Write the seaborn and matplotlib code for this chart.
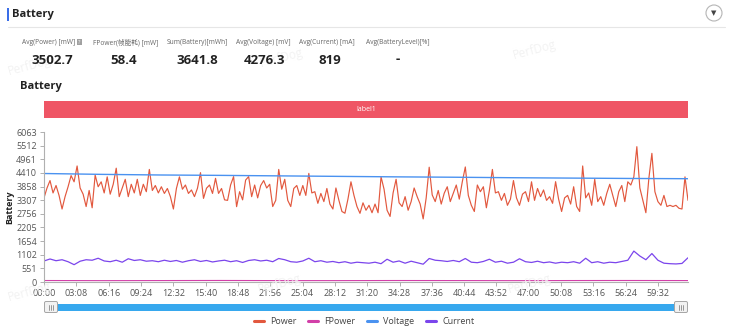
import numpy as np
import pandas as pd
import matplotlib
matplotlib.use("Agg")
import matplotlib.pyplot as plt
import seaborn as sns
from matplotlib.lines import Line2D
from matplotlib.patches import Rectangle, Ellipse, FancyBboxPatch

# ---------------- data ----------------
power = [
    3400, 3800, 4100, 3600, 3900, 3500, 2950, 3450, 3850, 4300,
    4050, 4690, 3800, 3550, 3050, 3700, 3000, 4320, 3850, 4050,
    3600, 4250, 3550, 3950, 4600, 3450, 3800, 4150, 3450, 3950,
    3600, 4150, 3500, 3950, 3650, 4550,
    3700, 3900, 3600, 3850, 3580, 3780, 3450, 2950, 3780, 4250,
    3750, 3920, 3580, 3720, 3450, 3790, 4420, 3380, 3790, 3920,
    3580, 4190, 3580, 3780, 3320, 3300, 3920, 4260, 3045, 3650,
    3320, 4120, 4260, 3450, 3920, 3400,
    3900, 4100, 3800, 3950, 3050, 3300, 4550, 3750, 4150, 3300,
    3050, 3780, 3900, 3500, 3900, 3500, 4390, 3600, 3650, 3180,
    3580, 3250, 3780, 3150, 2950, 3800, 3300, 2850, 2780, 3350,
    4050, 3500, 3050, 2776, 3200, 2900,
    3100, 2800, 3150, 2800, 4250, 3750, 2900, 2650, 3600, 4150,
    3200, 3050, 3450, 2900, 3250, 3800, 3450, 3150, 2550, 3400,
    4640, 3520, 3250, 3700, 3150, 3590, 3850, 3250, 3580, 3920,
    3350, 4050, 4650, 3500, 3100, 2850,
    3920, 3650, 3850, 3000, 3700, 4550, 3600, 3650, 3300, 3580,
    3100, 3350, 4100, 3400, 3100, 3550, 3650, 3250, 4050, 3300,
    3780, 3450, 3720, 3300, 3450, 3180, 4055, 3350, 2850, 3400,
    3500, 3150, 3850, 3050, 2850, 4690,
    3400, 3600, 3100, 4150, 3250, 3450, 3100, 3580, 3950, 3500,
    3050, 3650, 3900, 3250, 4050, 3920, 4250, 5470, 3800, 3300,
    2800, 4200, 5200, 3650, 3250, 3100, 3500, 3050, 3100, 3050,
    3100, 2980, 2950, 4250, 3300,
]
current = [
    850, 930, 860, 900, 820, 700, 840, 900, 880, 960, 850, 820, 880, 800, 940, 870, 900, 840,
    860, 820, 880, 830, 870, 800, 860, 900, 830, 870, 810, 850, 880, 820, 860, 790, 870, 900,
    850, 880, 820, 950, 900, 820, 800, 850, 960, 820, 860, 800, 830, 780, 820, 760, 800, 780,
    760, 800, 740, 920, 800, 850, 760, 840, 780, 720, 950, 880, 860, 830, 870, 820, 950, 800,
    780, 830, 920, 800, 840, 760, 800, 940, 820, 790, 840, 780, 810, 760, 800, 780, 820, 760,
    960, 780, 820, 760, 800, 780, 830, 880, 1250, 1050, 900, 1150, 880, 760, 740, 730, 750, 980,
]
voltage = [4385, 4350, 4325, 4310, 4290, 4270, 4250, 4235, 4215, 4200, 4185, 4175]
fpower = [60, 55, 58, 62, 57, 56, 60, 58, 55, 59, 61, 58]
DURATION_S = 3746

series_names = ["Power", "FPower", "Voltage", "Current"]
series_colors = ["#e2583e", "#d23fa8", "#4a92f0", "#7b45ec"]

x_tick_labels = ["00:00", "03:08", "06:16", "09:24", "12:32", "15:40", "18:48",
                 "21:56", "25:04", "28:12", "31:20", "34:28", "37:36", "40:44",
                 "43:52", "47:00", "50:08", "53:16", "56:24", "59:32"]
y_tick_labels = ["0", "551", "1102", "1654", "2205", "2756", "3307",
                 "3858", "4410", "4961", "5512", "6063"]

stat_labels = ["Avg(Power) [mW]", "FPower(帧能耗) [mW]", "Sum(Battery)[mWh]",
               "Avg(Voltage) [mV]", "Avg(Current) [mA]", "Avg(BatteryLevel)[%]"]
stat_values = ["3502.7", "58.4", "3641.8", "4276.3", "819", "-"]

# ---------------- style ----------------
sns.set_theme(style="white")
plt.rcParams["font.family"] = ["Open Sans", "Noto Sans CJK SC", "DejaVu Sans"]

W, H = 730, 331
fig = plt.figure(figsize=(W / 100, H / 100), dpi=100)
fig.patch.set_facecolor("white")


def P(x, y):
    return (x / W, 1 - y / H)


# ---------------- header ----------------
fig.patches.append(Rectangle(P(7, 21), 2 / W, 13 / H, transform=fig.transFigure,
                             color="#3a6ee8", lw=0))
fig.text(*P(12, 14.5), "Battery", fontsize=8, fontweight="bold", color="#222",
         va="center", ha="left")
fig.add_artist(Line2D([8 / W, 725 / W], [1 - 27 / H] * 2, color="#e6e6e6", lw=0.8))
fig.patches.append(Ellipse(P(714, 13), 16 / W, 16 / H, transform=fig.transFigure,
                           facecolor="white", edgecolor="#b5b5b5", lw=0.8))
fig.text(*P(714, 13.5), "▼", fontsize=5, color="#444", ha="center", va="center",
         family=["DejaVu Sans"])

label_x = [22, 93, 167, 236, 299, 366]
value_cx = [52, 124, 197, 264, 330, 398]
for lx, cx, lab, val in zip(label_x, value_cx, stat_labels, stat_values):
    fig.text(*P(lx, 42), lab, fontsize=4.8, color="#666", ha="left", va="center")
    fig.text(*P(cx, 60), val, fontsize=9.5, fontweight="bold", color="#222",
             ha="center", va="center")
fig.patches.append(FancyBboxPatch(P(77, 45), 5 / W, 6 / H, transform=fig.transFigure,
                                  boxstyle="round,pad=0", facecolor="#a0a0a0", lw=0))
fig.text(*P(79.5, 42), "?", fontsize=4, color="white", ha="center", va="center")

for (wx, wy) in [(30, 66), (282, 58), (535, 50), (30, 292), (280, 284), (530, 284)]:
    fig.text(*P(wx, wy), "PerfDog", fontsize=8.5, color="#f2f2f2", rotation=15,
             ha="center", va="center", zorder=0)

fig.text(*P(20, 87), "Battery", fontsize=8, fontweight="bold", color="#222",
         ha="left", va="center")

# label bar
fig.patches.append(Rectangle(P(44, 118), 644 / W, 17 / H, transform=fig.transFigure,
                             color="#ef5565", lw=0))
fig.text(*P(366, 109.5), "label1", fontsize=5, color="white", ha="center", va="center")

# ---------------- main axes ----------------
ax = fig.add_axes([44 / W, (H - 282) / H, 644 / W, 150 / H])
ymax = float(y_tick_labels[-1])

t_power = np.linspace(0, DURATION_S, len(power))
t_current = np.linspace(0, DURATION_S, len(current))
t_volt = np.linspace(0, DURATION_S, len(voltage))
t_fp = np.linspace(0, DURATION_S, len(fpower))

df = pd.concat([
    pd.DataFrame({"t": t_power, "v": power, "s": "Power"}),
    pd.DataFrame({"t": t_fp, "v": fpower, "s": "FPower"}),
    pd.DataFrame({"t": t_volt, "v": voltage, "s": "Voltage"}),
    pd.DataFrame({"t": t_current, "v": current, "s": "Current"}),
])
widths = {"Power": 0.85, "FPower": 0.8, "Voltage": 1.0, "Current": 0.9}
color_of = dict(zip(series_names, series_colors))
for name in ["FPower", "Current", "Power", "Voltage"]:
    sub = df[df["s"] == name]
    sns.lineplot(data=sub, x="t", y="v", ax=ax, color=color_of[name], lw=widths[name],
                 estimator=None, legend=False)


def to_sec(s):
    m, ss = s.split(":")
    return int(m) * 60 + int(ss)


ax.set_xlim(0, DURATION_S)
ax.set_ylim(0, ymax)
ax.set_xticks([to_sec(s) for s in x_tick_labels])
ax.set_xticklabels(x_tick_labels)
ax.set_yticks(np.linspace(0, ymax, len(y_tick_labels)))
ax.set_yticklabels(y_tick_labels)
ax.set_xlabel("")
ax.set_ylabel("")
for sp in ["top", "right"]:
    ax.spines[sp].set_visible(False)
for sp in ["left", "bottom"]:
    ax.spines[sp].set_color("#b0b0b0")
    ax.spines[sp].set_linewidth(0.8)
ax.tick_params(axis="both", labelsize=6.5, colors="#b0b0b0", labelcolor="#555",
               length=3, width=0.7, pad=2, left=True, bottom=True)
ax.grid(False)
ax.patch.set_alpha(0)

fig.text(*P(10, 207), "Battery", fontsize=6.5, fontweight="bold", color="#222",
         rotation=90, ha="center", va="center")

# ---------------- slider ----------------
sax = fig.add_axes([44 / W, (H - 313) / H, 644 / W, 12 / H])
sax.set_xlim(0, 644)
sax.set_ylim(0, 12)
sax.axis("off")
sax.add_patch(Rectangle((6, 2.5), 632, 7, color="#37a8ee", lw=0))
for hx in (0.5, 630.5):
    sax.add_patch(FancyBboxPatch((hx, 0.5), 13, 11, boxstyle="round,pad=0,rounding_size=1.5",
                                 facecolor="#f2f2f2", edgecolor="#a5a5a5", lw=0.7))
    for k in (-2, 0, 2):
        sax.add_line(Line2D([hx + 6.5 + k] * 2, [3.5, 8.5], color="#888", lw=0.6))

# ---------------- legend ----------------
handles = [Line2D([0], [0], color=c, lw=2.2) for c in series_colors]
fig.legend(handles, series_names, loc="center", bbox_to_anchor=P(364, 322), ncol=4,
           frameon=False, fontsize=6.5, handlelength=1.1, columnspacing=1.3,
           handletextpad=0.7, labelcolor="#444")

fig.savefig("out.png", dpi=100, facecolor="white")
